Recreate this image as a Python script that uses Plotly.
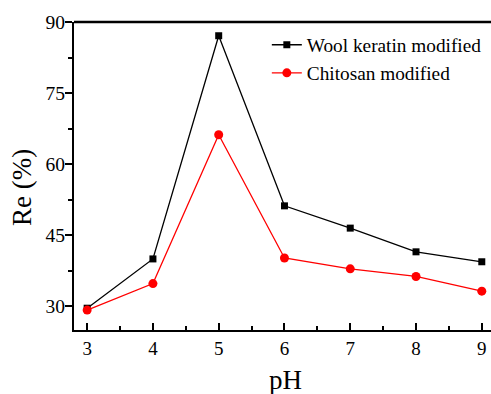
import plotly.graph_objects as go

ph = [3, 4, 5, 6, 7, 8, 9]
wool_keratin = [29.6, 40.0, 87.1, 51.2, 46.5, 41.5, 39.4]
chitosan = [29.2, 34.8, 66.2, 40.2, 37.9, 36.3, 33.2]
y_ticks = [30, 45, 60, 75, 90]
x_ticks = [3, 4, 5, 6, 7, 8, 9]

FONT = "Liberation Serif"

fig = go.Figure()
fig.add_trace(go.Scatter(
    x=ph, y=wool_keratin, mode="lines+markers", name="Wool keratin modified",
    line=dict(color="black", width=1.3),
    marker=dict(symbol="square", size=7, color="black"),
))
fig.add_trace(go.Scatter(
    x=ph, y=chitosan, mode="lines+markers", name="Chitosan modified",
    line=dict(color="#ff0000", width=1.3),
    marker=dict(symbol="circle", size=9, color="#ff0000"),
))

fig.update_layout(
    template="none",
    width=491, height=394,
    margin=dict(l=74, r=0, t=22, b=64, autoexpand=False),
    paper_bgcolor="white", plot_bgcolor="white",
    font=dict(family=FONT, size=19, color="black"),
    showlegend=True,
    legend=dict(x=0.99, y=0.988, xanchor="right", yanchor="top",
                bgcolor="rgba(0,0,0,0)", borderwidth=0,
                font=dict(family=FONT, size=19.3, color="black"), tracegroupgap=0),
    xaxis=dict(
        range=[2.8, 9.14], tickvals=x_ticks, ticktext=[str(v) for v in x_ticks],
        showgrid=False, zeroline=False, showline=True, linecolor="black", linewidth=2,
        ticks="inside", ticklen=7, tickwidth=2, tickcolor="black",
        minor=dict(ticks="inside", ticklen=4, tickwidth=2, tickcolor="black", dtick=0.5, tick0=3, showgrid=False),
        tickfont=dict(family=FONT, size=19, color="black"),
        automargin=False,
    ),
    yaxis=dict(
        range=[25, 90], tickvals=y_ticks, ticktext=[str(v) for v in y_ticks],
        showgrid=False, zeroline=False, showline=True, linecolor="black", linewidth=2,
        ticks="outside", ticklen=7, tickwidth=2, tickcolor="black",
        minor=dict(ticks="outside", ticklen=4, tickwidth=2, tickcolor="black", dtick=7.5, tick0=30, showgrid=False),
        tickfont=dict(family=FONT, size=19.5, color="black"),
        ticklabelstandoff=-4,
        automargin=False,
    ),
    shapes=[dict(type="line", xref="paper", yref="paper", x0=0, x1=1, y0=1, y1=1,
                 line=dict(color="black", width=2.5))],
    annotations=[
        dict(text="pH", xref="paper", yref="paper", x=0.506, y=-0.162,
             xanchor="center", yanchor="middle", showarrow=False,
             font=dict(family=FONT, size=27, color="black")),
        dict(text="Re (%)", xref="paper", yref="paper", x=-0.125, y=0.464,
             xanchor="center", yanchor="middle", textangle=-90, showarrow=False,
             font=dict(family=FONT, size=27, color="black")),
    ],
)

fig.write_html("out.html")
